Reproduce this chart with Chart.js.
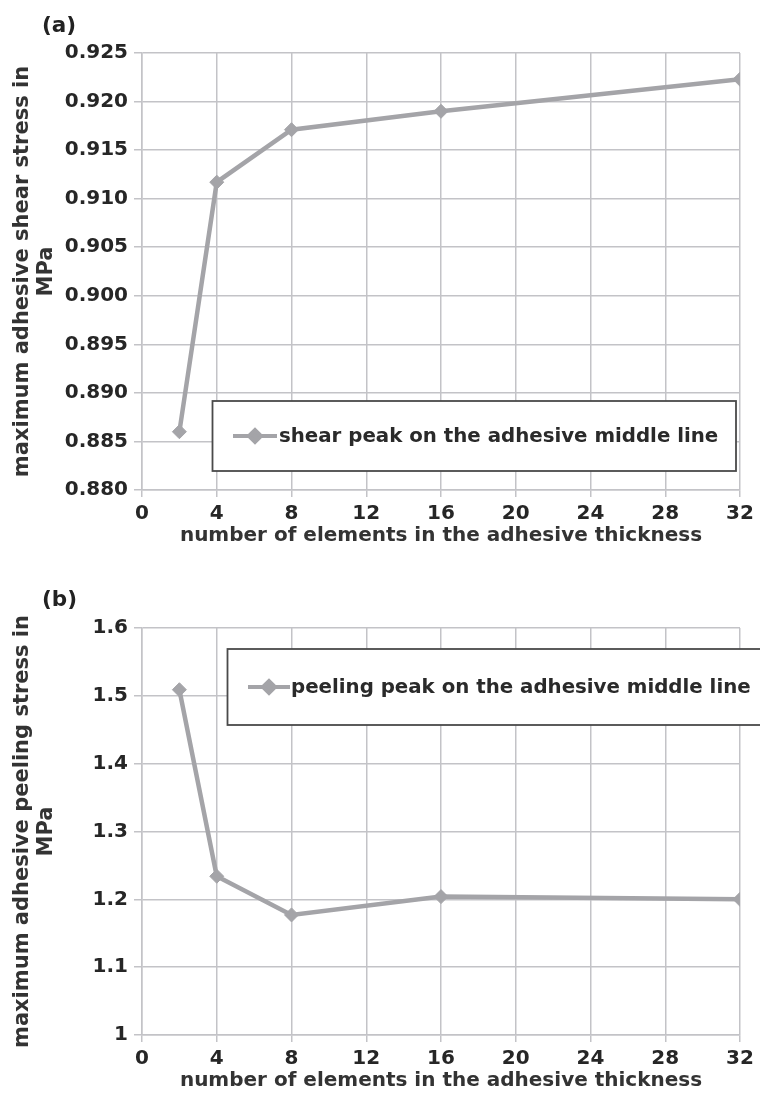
<!DOCTYPE html>
<html>
<head>
<meta charset="utf-8">
<script src="https://cdn.jsdelivr.net/npm/chart.js@4.4.1/dist/chart.umd.min.js"></script>
<style>
  html,body{margin:0;padding:0;background:#fff;}
  body{width:760px;height:1095px;overflow:hidden;position:relative;font-family:'DejaVu Sans',Verdana,sans-serif;}
  .panel{position:absolute;left:0;width:760px;}
  .tag{position:absolute;left:42px;font-weight:bold;font-size:21.5px;line-height:1;color:#222;z-index:2;}
</style>
</head>
<body>
<div class="panel" style="top:0;height:560px"><canvas id="c1" width="760" height="560"></canvas></div>
<div class="panel" style="top:560px;height:535px"><canvas id="c2" width="760" height="535"></canvas></div>
<div class="tag" style="top:14px">(a)</div>
<div class="tag" style="top:588px">(b)</div>
<script>
// ---- data ----
const elements = [2, 4, 8, 16, 32];
const shearPeak = [0.886, 0.9117, 0.9171, 0.919, 0.9223];
const peelingPeak = [1.509, 1.234, 1.177, 1.204, 1.2];
const xTickValues = [0, 4, 8, 12, 16, 20, 24, 28, 32];
const shearTicks = [0.880, 0.885, 0.890, 0.895, 0.900, 0.905, 0.910, 0.915, 0.920, 0.925];
const peelTicks = [1.0, 1.1, 1.2, 1.3, 1.4, 1.5, 1.6];
const shearLabel = 'shear peak on the adhesive middle line';
const peelLabel = 'peeling peak on the adhesive middle line';
const xTitle = 'number of elements in the adhesive thickness';
const shearTitle = ['maximum adhesive shear stress in', 'MPa'];
const peelTitle = ['maximum adhesive peeling stress in', 'MPa'];

// ---- styling ----
const FONT = "'DejaVu Sans', Verdana, sans-serif";
Chart.defaults.font.family = FONT;
const LINE = '#a4a4a8';
const GRID = '#c3c3c7';

const legendBox = {
  id: 'legendBox',
  afterDraw(chart, args, o) {
    const ctx = chart.ctx;
    const ds = chart.data.datasets[0];
    ctx.save();
    ctx.fillStyle = '#fff';
    ctx.fillRect(o.x, o.y, o.w, o.h);
    ctx.strokeStyle = '#4a4a4a';
    ctx.lineWidth = 1.8;
    ctx.strokeRect(o.x, o.y, o.w, o.h);
    const cy = o.y + o.h / 2;
    ctx.strokeStyle = ds.borderColor;
    ctx.lineWidth = 4;
    ctx.beginPath();
    ctx.moveTo(o.lx1, cy);
    ctx.lineTo(o.lx2, cy);
    ctx.stroke();
    ctx.fillStyle = ds.backgroundColor;
    ctx.strokeStyle = ds.borderColor;
    Chart.helpers.drawPoint(ctx, {pointStyle: 'rectRot', radius: 6, borderWidth: 1}, (o.lx1 + o.lx2) / 2, cy);
    ctx.fillStyle = '#2a2a2a';
    ctx.font = 'bold 19.8px ' + FONT;
    ctx.textBaseline = 'middle';
    ctx.textAlign = 'left';
    ctx.fillText(ds.label, o.tx, cy + 1);
    ctx.restore();
  }
};

function makeChart(id, label, values, yTicks, fmt, yTitle, padTop, xHeight, xTitlePadBottom, legend) {
  return new Chart(document.getElementById(id), {
    type: 'line',
    data: {
      datasets: [{
        label: label,
        data: elements.map((x, i) => ({x: x, y: values[i]})),
        borderColor: LINE,
        backgroundColor: LINE,
        borderWidth: 4.5,
        pointStyle: 'rectRot',
        pointRadius: 7,
        pointBorderWidth: 1,
        pointBackgroundColor: LINE,
        pointBorderColor: LINE,
        tension: 0,
        fill: false
      }]
    },
    options: {
      responsive: false,
      devicePixelRatio: 1,
      animation: false,
      events: [],
      layout: {padding: {top: padTop, right: 20, left: 0, bottom: 0}},
      plugins: {
        legend: {display: false},
        tooltip: {enabled: false},
        legendBox: legend
      },
      scales: {
        x: {
          type: 'linear',
          min: 0, max: 32,
          afterBuildTicks: s => { s.ticks = xTickValues.map(v => ({value: v})); },
          afterFit: s => { s.height = xHeight; },
          ticks: {
            font: {size: 20, weight: 'bold', family: FONT},
            color: '#262626',
            padding: 5,
            maxRotation: 0,
            autoSkip: false
          },
          grid: {color: GRID, lineWidth: 1.5, tickLength: 7},
          border: {color: GRID, width: 1.5},
          title: {
            display: true,
            text: xTitle,
            color: '#333',
            font: {size: 20, weight: 'bold', family: FONT, lineHeight: 1.2},
            padding: {top: 0, bottom: xTitlePadBottom}
          }
        },
        y: {
          type: 'linear',
          min: yTicks[0], max: yTicks[yTicks.length - 1],
          afterBuildTicks: s => { s.ticks = yTicks.map(v => ({value: v})); },
          afterFit: s => { s.width = 142; },
          ticks: {
            font: {size: 20, weight: 'bold', family: FONT},
            color: '#262626',
            padding: 6,
            callback: v => fmt(v)
          },
          grid: {color: GRID, lineWidth: 1.5, tickLength: 8},
          border: {color: GRID, width: 1.5},
          title: {
            display: true,
            text: yTitle,
            color: '#333',
            font: {size: 21, weight: 'bold', family: FONT, lineHeight: 1.15},
            padding: {top: 10, bottom: 0}
          }
        }
      }
    },
    plugins: [legendBox]
  });
}

makeChart('c1', shearLabel, shearPeak, shearTicks, v => v.toFixed(3), shearTitle, 53, 70, 12,
  {x: 212.5, y: 401, w: 523.5, h: 70, lx1: 233, lx2: 277, tx: 279});
makeChart('c2', peelLabel, peelingPeak, peelTicks, v => String(Math.round(v * 10) / 10), peelTitle, 68, 60, 2,
  {x: 227.5, y: 89, w: 545, h: 76, lx1: 248, lx2: 290, tx: 291});
</script>
</body>
</html>
